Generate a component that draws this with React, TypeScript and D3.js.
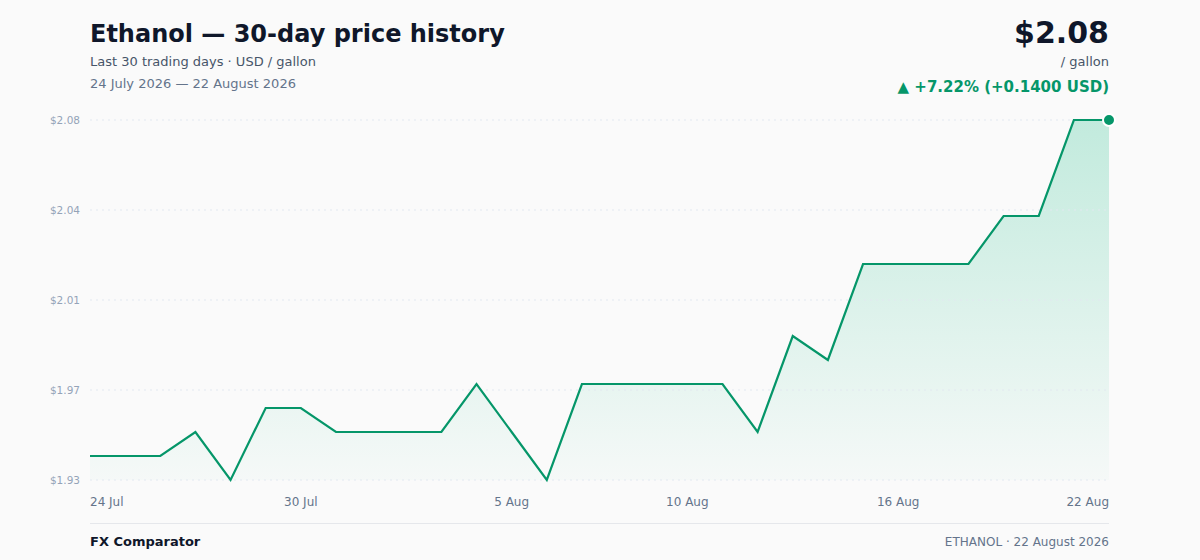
import React from "react";
import * as d3 from "d3";

const dates: string[] = [
  "2026-07-24","2026-07-25","2026-07-26","2026-07-27","2026-07-28","2026-07-29","2026-07-30","2026-07-31",
  "2026-08-01","2026-08-02","2026-08-03","2026-08-04","2026-08-05","2026-08-06","2026-08-07","2026-08-08",
  "2026-08-09","2026-08-10","2026-08-11","2026-08-12","2026-08-13","2026-08-14","2026-08-15","2026-08-16",
  "2026-08-17","2026-08-18","2026-08-19","2026-08-20","2026-08-21","2026-08-22",
];
const prices: number[] = [
  1.94, 1.94, 1.94, 1.95, 1.93, 1.96, 1.96, 1.95, 1.95, 1.95,
  1.95, 1.97, 1.95, 1.93, 1.97, 1.97, 1.97, 1.97, 1.97, 1.95,
  1.99, 1.98, 2.02, 2.02, 2.02, 2.02, 2.04, 2.04, 2.08, 2.08,
];
const xTickIdx: number[] = [0, 6, 12, 17, 23, 29];
const yTickCount = 5;

const W = 1200, H = 560;
const L = 90, R = 1109, T = 120, B = 480;
const FONT = "'DejaVu Sans', sans-serif";
const GREEN = "#059669";

export default function App() {
  const parse = d3.timeParse("%Y-%m-%d");
  const data = dates.map((d, i) => ({ date: parse(d) as Date, v: prices[i] }));
  const x = d3.scaleTime().domain([data[0].date, data[data.length - 1].date]).range([L, R]);
  const yMin = d3.min(prices) as number, yMax = d3.max(prices) as number;
  const y = d3.scaleLinear().domain([yMin, yMax]).range([B, T]);
  const yTicks = d3.range(yTickCount).map((i) => yMin + ((yMax - yMin) * i) / (yTickCount - 1));
  const line = d3.line<{ date: Date; v: number }>().x((d) => x(d.date)).y((d) => y(d.v));
  const area = d3.area<{ date: Date; v: number }>().x((d) => x(d.date)).y0(B).y1((d) => y(d.v));
  const fmtTick = d3.timeFormat("%-d %b");
  const fmtY = (t: number) => "$" + (Math.round(t * 100 + 1e-6) / 100).toFixed(2);
  const first = prices[0], last = prices[prices.length - 1];
  const diff = last - first;
  const pct = (diff / first) * 100;
  const lastPt = data[data.length - 1];

  return (
    <div style={{ position: "fixed", left: 0, top: 0, width: W, height: H }}>
      <svg width={W} height={H} style={{ display: "block", fontFamily: FONT }}>
        <defs>
          <linearGradient id="ag" x1="0" y1="0" x2="0" y2="1">
            <stop offset="0%" stopColor="#10b981" stopOpacity={0.24} />
            <stop offset="100%" stopColor="#10b981" stopOpacity={0.02} />
          </linearGradient>
        </defs>
        <rect width={W} height={H} fill="#fafafa" />
        <text x={90} y={42} fontSize={24} fontWeight="bold" fill="#0f172a">Ethanol — 30-day price history</text>
        <text x={90} y={66} fontSize={13} fill="#475569">Last 30 trading days · USD / gallon</text>
        <text x={90} y={88} fontSize={13} fill="#64748b">24 July 2026 — 22 August 2026</text>
        <text x={1109} y={43} fontSize={30} fontWeight="bold" fill="#0f172a" textAnchor="end">${last.toFixed(2)}</text>
        <text x={1109} y={66} fontSize={13} fill="#475569" textAnchor="end">/ gallon</text>
        <text x={1109} y={92} fontSize={15} fontWeight="bold" fill={GREEN} textAnchor="end">
          ▲ +{pct.toFixed(2)}% (+{diff.toFixed(4)} USD)
        </text>

        <path d={area(data) as string} fill="url(#ag)" />
        {yTicks.map((t, i) => (
          <g key={i}>
            <line x1={L} x2={R} y1={y(t)} y2={y(t)} stroke="#e2e8f0" strokeDasharray="2 4" strokeWidth={1} />
            <text x={80} y={y(t) + 3.7} fontSize={10.5} fill="#94a3b8" textAnchor="end">{fmtY(t)}</text>
          </g>
        ))}
        <path d={line(data) as string} fill="none" stroke={GREEN} strokeWidth={2.2} strokeLinejoin="miter" />
        <circle cx={x(lastPt.date)} cy={y(lastPt.v)} r={6} fill={GREEN} stroke="#fff" strokeWidth={2} />
        {xTickIdx.map((i, k) => (
          <text
            key={i}
            x={x(data[i].date)}
            y={506}
            fontSize={12}
            fill="#64748b"
            textAnchor={k === 0 ? "start" : k === xTickIdx.length - 1 ? "end" : "middle"}
          >
            {fmtTick(data[i].date)}
          </text>
        ))}
        <line x1={L} x2={R} y1={523.5} y2={523.5} stroke="#e5e7eb" strokeWidth={1} />
        <text x={90} y={546} fontSize={13} fontWeight="bold" fill="#0f172a">FX Comparator</text>
        <text x={1109} y={546} fontSize={12} fill="#64748b" textAnchor="end">ETHANOL · 22 August 2026</text>
      </svg>
    </div>
  );
}
